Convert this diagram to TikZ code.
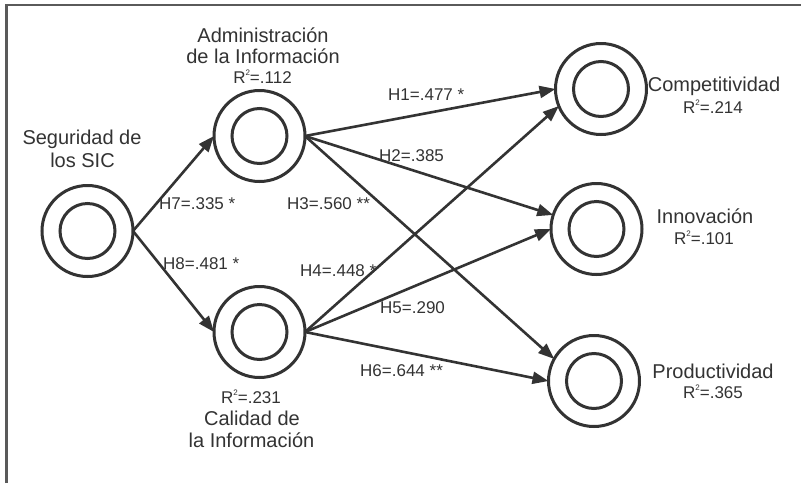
\documentclass[tikz,border=0pt]{standalone}
\usepackage{fontspec}
\setmainfont{Liberation Sans}
\usetikzlibrary{arrows.meta}
\definecolor{ink}{HTML}{333333}
\definecolor{framegray}{HTML}{5A5A5A}
% R-squared with a small raised 2
\newcommand\rsq[1]{R\raisebox{0.42em}{\fontsize{8}{8}\selectfont 2}=#1}
\begin{document}
\begin{tikzpicture}[x=1pt,y=-1pt,
  construct/.style={circle, draw=ink, line width=3pt, minimum size=91pt, inner sep=0pt, outer sep=0pt},
  link/.style={draw=ink, line width=2.6pt, -{Triangle[length=16pt,width=12pt]}},
  title/.style={font=\fontsize{20}{24}\selectfont, text=ink, anchor=base, inner sep=0pt},
  rlab/.style={font=\fontsize{17}{20}\selectfont, text=ink, anchor=base, inner sep=0pt},
  lab/.style={font=\fontsize{17}{20}\selectfont, text=ink, anchor=base west, inner sep=0pt}]
\useasboundingbox (0,0) rectangle (801,483);
\fill[white] (0,0) rectangle (801,483);
\draw[framegray, line width=2.5pt] (6.5,483) -- (6.5,5) -- (801,5);

% constructs
\node[construct] (seg) at (87.5,231) {};
\node[construct] (adm) at (259.5,136) {};
\node[construct] (cal) at (259.5,332) {};
\node[construct] (com) at (601,89) {};
\node[construct] (inn) at (596.5,229) {};
\node[construct] (pro) at (594,381) {};
\foreach \n in {seg,adm,cal,com,inn,pro}
  \draw[ink, line width=3pt] (\n.center) circle[radius=27.5];

% paths
\draw[link] (seg.east) -- (adm.west);
\draw[link] (seg.east) -- (cal.west);
\draw[link] (adm.east) -- (com.west);
\draw[link] (adm.east) -- (inn.162);
\draw[link] (adm.east) -- (pro.151);
\draw[link] (cal.east) -- (com.202);
\draw[link] (cal.east) -- (inn.west);
\draw[link] (cal.east) -- (pro.west);

% path coefficients
\node[lab] (h1) at (388,100) {H1=.477 *};
\node[lab] (h2) at (379,161) {H2=.385};
\node[lab] (h3) at (287,209) {H3=.560 **};
\node[lab] (h7) at (159,209) {H7=.335 *};
\node[lab] (h8) at (163,269) {H8=.481 *};
\node[lab] (h4) at (300,276) {H4=.448 *};
\node[lab] (h5) at (380,313) {H5=.290};
\node[lab] (h6) at (360,376) {H6=.644 **};

% construct names
\node[title] (seg-a) at (82,144) {Seguridad de};
\node[title] (seg-b) at (82.5,167) {los SIC};
\node[title] (adm-a) at (263,42) {Administración};
\node[title] (adm-b) at (263,63) {de la Información};
\node[rlab]  (adm-r) at (262.5,83) {\rsq{.112}};
\node[rlab]  (cal-r) at (251,403) {\rsq{.231}};
\node[title] (cal-a) at (252,425) {Calidad de};
\node[title] (cal-b) at (251.5,447) {la Información};
\node[title] (com-a) at (714,91) {Competitividad};
\node[rlab]  (com-r) at (713,113) {\rsq{.214}};
\node[title] (inn-a) at (705,223) {Innovación};
\node[rlab]  (inn-r) at (704,244) {\rsq{.101}};
\node[title] (pro-a) at (713,378) {Productividad};
\node[rlab]  (pro-r) at (713,398) {\rsq{.365}};
\end{tikzpicture}
\end{document}
